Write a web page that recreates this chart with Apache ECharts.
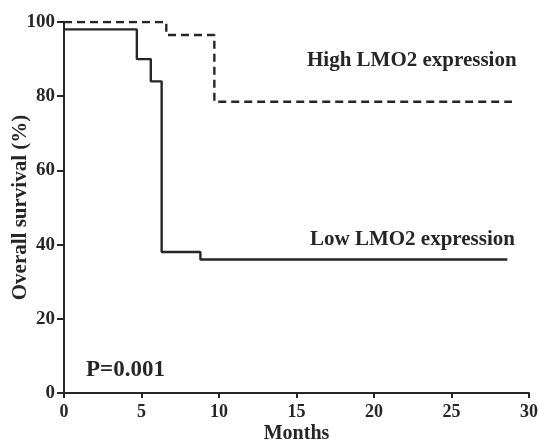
<!DOCTYPE html>
<html><head><meta charset="utf-8">
<script src="https://cdn.jsdelivr.net/npm/echarts@6/dist/echarts.min.js"></script>
<style>html,body{margin:0;padding:0;background:#fff}#c{width:539px;height:442px}</style>
</head><body><div id="c"></div>
<script>
// Kaplan-Meier step data (months, % survival)
var lowTimes  = [0, 4.7, 5.6, 6.3, 8.8, 28.6];
var lowSurv   = [98, 90, 84, 38, 36, 36];
var highTimes = [0, 6.6, 9.7, 28.9];
var highSurv  = [100, 96.5, 78.5, 78.5];
var xTicks = [0, 5, 10, 15, 20, 25, 30];
var yTicks = [0, 20, 40, 60, 80, 100];
var labels = {high: 'High LMO2 expression', low: 'Low LMO2 expression', p: 'P=0.001'};

function pairs(xs, ys){ return xs.map(function(x,i){ return [x, ys[i]]; }); }
var FONT = 'Liberation Serif';
var INK = '#262626';
var chart = echarts.init(document.getElementById('c'));
chart.setOption({
  animation: false,
  grid: {left: 64, right: 10, top: 22, bottom: 49, containLabel: false, outerBoundsMode: 'none'},
  xAxis: {
    type: 'value', min: xTicks[0], max: xTicks[xTicks.length-1], interval: xTicks[1]-xTicks[0],
    name: 'Months', nameLocation: 'middle', nameGap: 31, nameMoveOverlap: false,
    nameTextStyle: {fontFamily: FONT, fontWeight: 'bold', fontSize: 20, color: INK},
    axisLine: {show: true, lineStyle: {color: INK, width: 2}},
    axisTick: {show: true, length: 5, lineStyle: {color: INK, width: 2}},
    axisLabel: {fontFamily: FONT, fontWeight: 'bold', fontSize: 18, color: INK, margin: 10},
    splitLine: {show: false}
  },
  yAxis: {
    type: 'value', min: yTicks[0], max: yTicks[yTicks.length-1], interval: yTicks[1]-yTicks[0],
    name: 'Overall survival (%)', nameLocation: 'middle', nameGap: 33, nameMoveOverlap: false,
    nameTextStyle: {fontFamily: FONT, fontWeight: 'bold', fontSize: 21, color: INK},
    axisLine: {show: true, lineStyle: {color: INK, width: 2}},
    axisTick: {show: true, length: 7, lineStyle: {color: INK, width: 2}},
    axisLabel: {fontFamily: FONT, fontWeight: 'bold', fontSize: 19, color: INK, margin: 9},
    splitLine: {show: false}
  },
  series: [
    {type: 'line', step: 'end', data: pairs(lowTimes, lowSurv), symbol: 'none',
     lineStyle: {color: INK, width: 2.4}},
    {type: 'line', step: 'end', data: pairs(highTimes, highSurv), symbol: 'none',
     lineStyle: {color: INK, width: 2.4, type: [8, 5]}}
  ],
  graphic: [
    {type: 'text', left: 307, top: 50, style: {text: labels.high, font: 'bold 21px "Liberation Serif"', fill: INK}},
    {type: 'text', left: 310, top: 229, style: {text: labels.low, font: 'bold 21px "Liberation Serif"', fill: INK}},
    {type: 'text', left: 86, top: 359, style: {text: labels.p, font: 'bold 23px "Liberation Serif"', fill: INK}}
  ]
});
</script></body></html>
